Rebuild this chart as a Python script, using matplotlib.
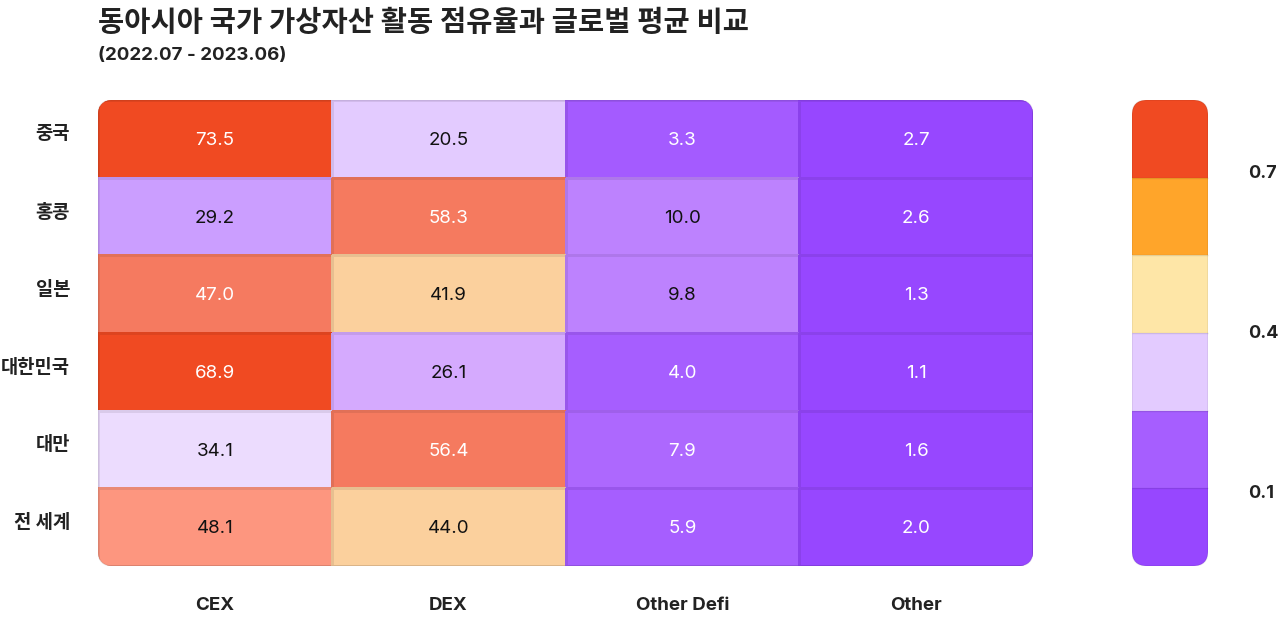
import matplotlib
matplotlib.use('Agg')
import matplotlib.pyplot as plt
import matplotlib.transforms as mtransforms
import numpy as np
from matplotlib.colors import LinearSegmentedColormap, ListedColormap, BoundaryNorm, Normalize
from matplotlib.cm import ScalarMappable
from matplotlib.patches import FancyBboxPatch

plt.rcParams['font.family'] = ['Inter', 'Noto Sans CJK KR', 'DejaVu Sans']

title = '동아시아 국가 가상자산 활동 점유율과 글로벌 평균 비교'
subtitle = '(2022.07 - 2023.06)'

regions = ['중국', '홍콩', '일본', '대한민국', '대만', '전 세계']
activities = ['CEX', 'DEX', 'Other Defi', 'Other']

cex = [73.5, 29.2, 47.0, 68.9, 34.1, 48.1]
dex = [20.5, 58.3, 41.9, 26.1, 56.4, 44.0]
other_defi = [3.3, 10.0, 9.8, 4.0, 7.9, 5.9]
other = [2.7, 2.6, 1.3, 1.1, 1.6, 2.0]

# colour scale of the cells (share in %, /100)
heat_stops = [
    (0.000, '#9747ff'), (0.027, '#9747ff'), (0.033, '#a65eff'),
    (0.059, '#a65eff'), (0.079, '#ad68fe'), (0.098, '#bd82fe'),
    (0.100, '#bd82fe'), (0.205, '#e3cbff'), (0.261, '#d5aafe'),
    (0.292, '#cb9eff'), (0.341, '#ecdcfe'), (0.419, '#fbd09d'),
    (0.440, '#fbd09d'), (0.470, '#f57a5f'), (0.481, '#fd967f'),
    (0.564, '#f57a5f'), (0.583, '#f57a5f'), (0.689, '#f04a22'),
    (1.000, '#f04a22'),
]

# legend bar
cb_bounds = np.linspace(-0.039, 0.835, 7)
cb_colors = ['#9747ff', '#a65eff', '#e3cbff', '#fee6a7', '#ffa52a', '#f04a22']
cb_ticks = [0.1, 0.4, 0.7]

values = np.column_stack([cex, dex, other_defi, other])

W, H = 1280, 618
fig = plt.figure(figsize=(W / 100, H / 100), dpi=100)


def box(x0, y0, x1, y1):
    return [x0 / W, 1 - y1 / H, (x1 - x0) / W, (y1 - y0) / H]


ax = fig.add_axes(box(98, 100, 1033, 566))
cax = fig.add_axes(box(1132, 100, 1208, 566))

heat_cmap = LinearSegmentedColormap.from_list('heat', heat_stops, N=1024)
norm = Normalize(0, 100)

mesh = ax.pcolormesh(np.arange(len(activities) + 1), np.arange(len(regions) + 1),
                     values, cmap=heat_cmap, norm=norm, linewidth=0.8)
mesh.update_scalarmappable()
fc = np.array(mesh.get_facecolor())
ec = fc.copy()
ec[:, :3] *= 0.92
mesh.set_edgecolor(ec)

ax.set_xlim(0, len(activities))
ax.set_ylim(len(regions), 0)

frame = FancyBboxPatch((0, 0), 1, 1, boxstyle='round,pad=0,rounding_size=0.016',
                       mutation_aspect=935 / 466, transform=ax.transAxes,
                       facecolor='none', edgecolor=(0, 0, 0, 0.08), linewidth=1)
ax.add_patch(frame)
mesh.set_clip_path(frame)

for i in range(len(regions)):
    for j in range(len(activities)):
        v = values[i, j]
        r, g, b, _ = heat_cmap(norm(v))
        bright = (0.299 * r + 0.587 * g + 0.114 * b) * 255
        ax.text(j + 0.5, i + 0.52, f'{v:.1f}', ha='center', va='center',
                fontsize=13.5, color='white' if bright < 158.5 else '#111111')

ax.set_xticks(np.arange(len(activities)) + 0.5, activities)
ax.set_yticks(np.arange(len(regions)) + 0.5, regions)
ax.tick_params(length=0, labelsize=13.5, labelcolor='#222222')
ax.tick_params(axis='x', pad=22)
ax.tick_params(axis='y', pad=20)
for lab in ax.get_xticklabels() + ax.get_yticklabels():
    lab.set_fontweight('bold')
# row labels sit a little above the cell centre
lift = mtransforms.ScaledTranslation(0, 0.06, fig.dpi_scale_trans)
for lab in ax.get_yticklabels():
    lab.set_transform(lab.get_transform() + lift)
for s in ax.spines.values():
    s.set_visible(False)

sm = ScalarMappable(norm=BoundaryNorm(cb_bounds, len(cb_colors)), cmap=ListedColormap(cb_colors))
cb = fig.colorbar(sm, cax=cax, ticks=cb_ticks, drawedges=True)
cb.outline.set_visible(False)
cb.dividers.set_color((0, 0, 0, 0.1))
cb.dividers.set_linewidth(1)
cb_frame = FancyBboxPatch((0, 0), 1, 1, boxstyle='round,pad=0,rounding_size=0.2',
                          mutation_aspect=76 / 466, transform=cax.transAxes,
                          facecolor='none', edgecolor=(0, 0, 0, 0.08), linewidth=1)
cax.add_patch(cb_frame)
cb.solids.set_clip_path(cb_frame)
cax.minorticks_off()
cax.set_yticklabels([f'{t:.1f}' for t in cb_ticks])
cax.tick_params(which='both', length=0, pad=29, labelsize=13, labelcolor='#222222')
for lab in cax.get_yticklabels():
    lab.set_fontweight('bold')

fig.text(98 / W, 1 - 23 / H, title, fontsize=20.5, fontweight='bold',
         ha='left', va='center', color='#222222')
fig.text(98 / W, 1 - 56 / H, subtitle, fontsize=13.5, fontweight='bold',
         ha='left', va='center', color='#222222')

fig.savefig('out.png', dpi=100)
